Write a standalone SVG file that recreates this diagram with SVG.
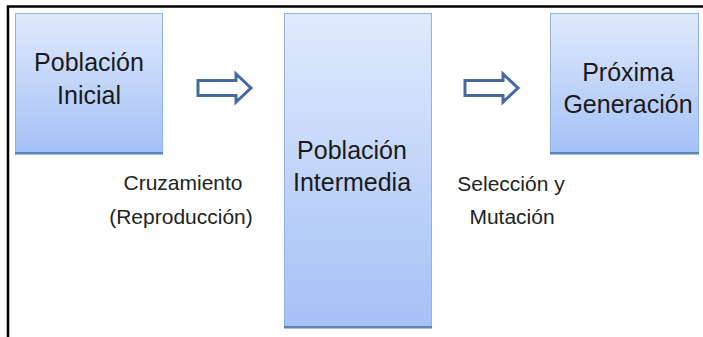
<svg xmlns="http://www.w3.org/2000/svg" width="703" height="337" viewBox="0 0 703 337">
<defs>
<linearGradient id="g" x1="0" y1="0" x2="0" y2="1">
<stop offset="0" stop-color="#e0eafd"/>
<stop offset="1" stop-color="#a4c1f6"/>
</linearGradient>
<style>
.box{fill:url(#g);stroke:#8fb1e8;stroke-width:1}
.sh{fill:#5d83bf}
.t{font-family:"Liberation Sans",Arial,sans-serif;font-size:25px;fill:#1a1a1a;text-anchor:middle}
.l{font-family:"Liberation Sans",Arial,sans-serif;font-size:21px;fill:#222;text-anchor:middle}
.arr{fill:#fff;stroke:#46699e;stroke-width:3;stroke-linejoin:miter}
.fr{stroke:#000;stroke-width:2.5;fill:none}
</style>
</defs>
<rect width="703" height="337" fill="#fff"/>
<path class="fr" d="M8 337 V6.5 H703"/>
<g id="poblacion-inicial">
<rect class="box" x="15.5" y="13.5" width="147" height="139"/>
<rect class="sh" x="15" y="152" width="148" height="2.5"/>
<text class="t" x="89" y="71">Población</text>
<text class="t" x="89" y="104">Inicial</text>
</g>
<g id="poblacion-intermedia">
<rect class="box" x="284.5" y="13.5" width="147" height="313"/>
<rect class="sh" x="284" y="326" width="148" height="2.5"/>
<text class="t" x="352" y="159">Población</text>
<text class="t" x="352" y="191">Intermedia</text>
</g>
<g id="proxima-generacion">
<rect class="box" x="550.5" y="13.5" width="148" height="139"/>
<rect class="sh" x="550" y="152" width="149" height="2.5"/>
<text class="t" x="628" y="81">Próxima</text>
<text class="t" x="628" y="113">Generación</text>
</g>
<g id="connectors">
<polygon class="arr" points="198,80.5 236,80.5 236,74 251,88 236,102 236,95.5 198,95.5"/>
<polygon class="arr" points="465,80.5 503,80.5 503,74 518,88 503,102 503,95.5 465,95.5"/>
</g>
<g id="labels">
<text class="l" x="183" y="190">Cruzamiento</text>
<text class="l" x="181" y="224">(Reproducción)</text>
<text class="l" x="511" y="191">Selección y</text>
<text class="l" x="512" y="224">Mutación</text>
</g>
</svg>
